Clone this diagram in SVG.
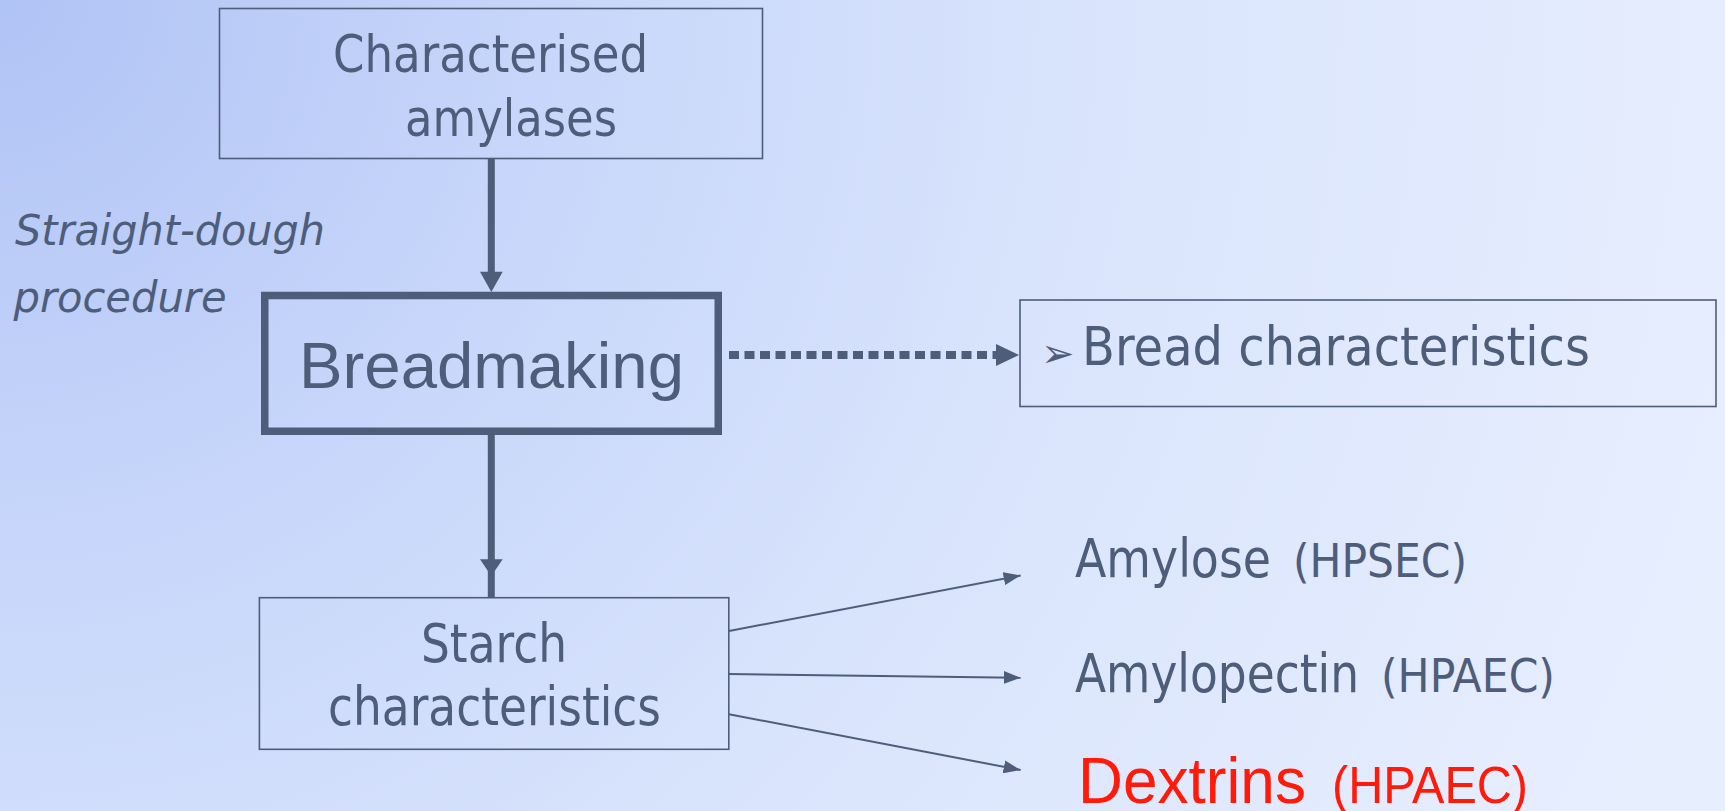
<svg xmlns="http://www.w3.org/2000/svg" width="1725" height="811" viewBox="0 0 1725 811">
  <defs>
    <radialGradient id="bg" cx="0" cy="0" r="1800" gradientUnits="userSpaceOnUse">
      <stop offset="0" stop-color="#B0C3F5"/>
      <stop offset="0.3" stop-color="#C7D6FA"/>
      <stop offset="0.6" stop-color="#D9E4FC"/>
      <stop offset="1" stop-color="#E7EEFE"/>
    </radialGradient>
    <marker id="thin" markerUnits="userSpaceOnUse" markerWidth="17" markerHeight="13" refX="17" refY="6.5" orient="auto">
      <path d="M0,0 L17,6.5 L0,13 z" fill="#4E5D7A"/>
    </marker>
    <style>
      .t { font-family: "DejaVu Sans", "Liberation Sans", sans-serif; fill: #4E5D7A; }
      .a { font-family: "Liberation Sans", Arial, sans-serif; }
      .box { fill: none; stroke: #4E5D7A; stroke-width: 1.6; }
      .thick { stroke: #4E5D7A; stroke-width: 7; fill: none; }
      .head { fill: #4E5D7A; }
      .red { fill: #FF1A0A; }
    </style>
  </defs>
  <rect x="0" y="0" width="1725" height="811" fill="url(#bg)"/>

  <g id="connectors">
    <line class="thick" x1="491.3" y1="159" x2="491.3" y2="280"/>
    <polygon class="head" points="480,271.7 502.7,271.7 491.3,292"/>
    <line class="thick" x1="491.3" y1="435" x2="491.3" y2="598"/>
    <polygon class="head" points="480,559.3 502.7,559.3 491.3,576"/>
    <line x1="729" y1="355" x2="997" y2="355" stroke="#4E5D7A" stroke-width="8" stroke-dasharray="10 5.5"/>
    <polygon class="head" points="996,344 996,366 1019,355"/>
    <line x1="729" y1="631" x2="1020.6" y2="575.5" stroke="#4E5D7A" stroke-width="2" marker-end="url(#thin)"/>
    <line x1="729" y1="674" x2="1020.6" y2="677.7" stroke="#4E5D7A" stroke-width="2" marker-end="url(#thin)"/>
    <line x1="729" y1="714.3" x2="1020.6" y2="770" stroke="#4E5D7A" stroke-width="2" marker-end="url(#thin)"/>
  </g>

  <g id="characterised">
    <rect class="box" x="219.5" y="8.5" width="543" height="150"/>
    <text class="t" x="333" y="71.7" font-size="52" textLength="315" lengthAdjust="spacingAndGlyphs">Characterised</text>
    <text class="t" x="405" y="136" font-size="52" textLength="212" lengthAdjust="spacingAndGlyphs">amylases</text>
  </g>

  <g id="procedure">
    <text class="t" x="15" y="245" font-size="42" font-style="italic" textLength="310" lengthAdjust="spacingAndGlyphs">Straight-dough</text>
    <text class="t" x="13.5" y="311.7" font-size="42" font-style="italic" textLength="213" lengthAdjust="spacingAndGlyphs">procedure</text>
  </g>

  <g id="breadmaking">
    <rect x="264.75" y="295.5" width="453.5" height="135.75" fill="none" stroke="#4E5D7A" stroke-width="7.5"/>
    <text class="t a" x="299" y="388" font-size="65" textLength="385" lengthAdjust="spacingAndGlyphs">Breadmaking</text>
  </g>

  <g id="bread-characteristics">
    <rect class="box" x="1020" y="300" width="696" height="106.5"/>
    <text class="t" x="1041" y="367" font-size="40">➢</text>
    <text class="t" x="1082" y="365" font-size="54" textLength="508" lengthAdjust="spacingAndGlyphs">Bread characteristics</text>
  </g>

  <g id="starch">
    <rect class="box" x="259.4" y="597.7" width="469.4" height="151.6"/>
    <text class="t" x="421" y="662" font-size="53" textLength="146" lengthAdjust="spacingAndGlyphs">Starch</text>
    <text class="t" x="328" y="725" font-size="53" textLength="333" lengthAdjust="spacingAndGlyphs">characteristics</text>
  </g>

  <g id="amylose">
    <text class="t" x="1075" y="577.3" font-size="53" textLength="196" lengthAdjust="spacingAndGlyphs">Amylose</text>
    <text class="t" x="1293" y="577.3" font-size="47" textLength="174" lengthAdjust="spacingAndGlyphs">(HPSEC)</text>
  </g>

  <g id="amylopectin">
    <text class="t" x="1075" y="692.3" font-size="53" textLength="284" lengthAdjust="spacingAndGlyphs">Amylopectin</text>
    <text class="t" x="1381" y="692.3" font-size="47" textLength="174" lengthAdjust="spacingAndGlyphs">(HPAEC)</text>
  </g>

  <g id="dextrins">
    <text class="a red" x="1078" y="802.7" font-size="64" textLength="228" lengthAdjust="spacingAndGlyphs">Dextrins</text>
    <text class="a red" x="1332" y="802.7" font-size="51" textLength="196" lengthAdjust="spacingAndGlyphs">(HPAEC)</text>
  </g>
</svg>
